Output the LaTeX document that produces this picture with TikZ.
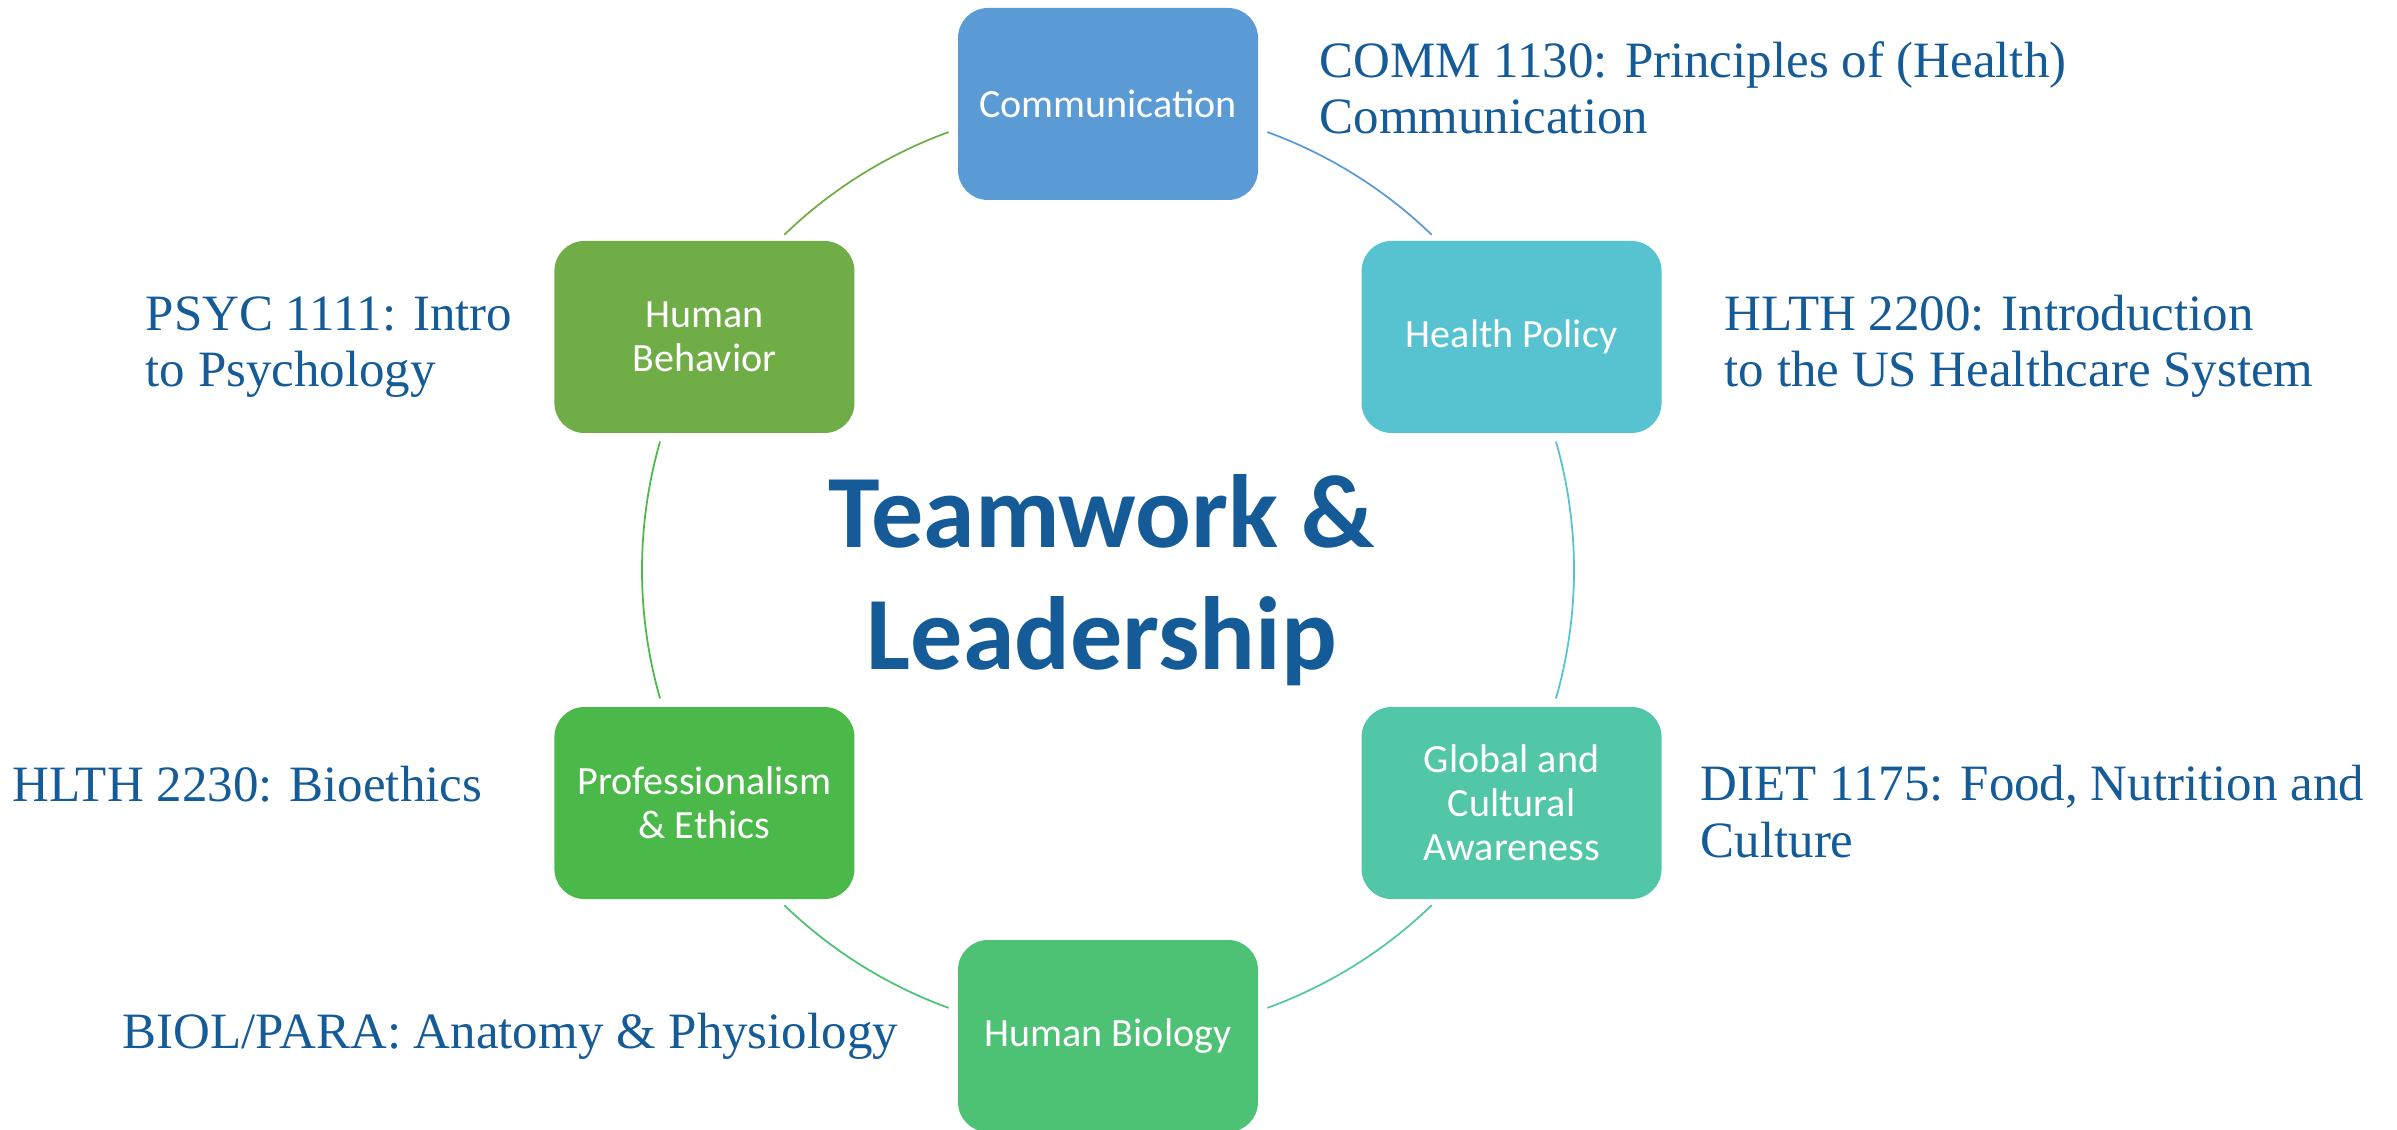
\documentclass[tikz,border=0pt]{standalone}
\usepackage{fontspec}
\setmainfont{Liberation Serif}
\newfontfamily\boxfont{Carlito}
\usepackage{xcolor}
\usepackage{tikz}

\definecolor{commblue}{RGB}{91,155,213}
\definecolor{policycyan}{RGB}{87,194,208}
\definecolor{globalteal}{RGB}{82,199,168}
\definecolor{biogreen}{RGB}{78,194,116}
\definecolor{profgreen}{RGB}{75,185,74}
\definecolor{behavgreen}{RGB}{112,173,71}
\definecolor{courseblue}{RGB}{21,91,151}

\begin{document}
\begin{tikzpicture}[
    topic/.style={rounded corners=0.3cm, minimum width=3cm, minimum height=1.92cm,
        text=white, align=center, font=\boxfont\fontsize{11.4}{12.5}\selectfont},
    course/.style={anchor=base west, align=left, inner sep=0pt, text=courseblue,
        font=\fontsize{14.5}{16}\selectfont},
    ring/.style={line width=0.5pt}
]
    \useasboundingbox (-11.08,-5.59) rectangle (12.89,5.70);
    \def\rad{4.66}

    % Ring pieces from box to box
    \foreach \s/\e/\col [count=\i] in {70/46/commblue, 16/-16/policycyan,
        -46/-70/globalteal, -110/-134/biogreen, -164/-196/profgreen, 134/110/behavgreen} {
        \coordinate (ring\i) at (\s:\rad);
        \draw[ring, \col] (ring\i) arc[start angle=\s, end angle=\e, radius=\rad];
    }

    % Boxes round the ring
    \foreach \ang/\name/\col/\txt in {90/comm/commblue/Communication,
        30/policy/policycyan/Health Policy,
        -30/global/globalteal/{Global and\\Cultural\\Awareness},
        -90/bio/biogreen/Human Biology,
        -150/prof/profgreen/{Professionalism\\\& Ethics},
        150/behav/behavgreen/{Human\\Behavior}} {
        \node[topic, fill=\col] (\name) at (\ang:\rad) {\txt};
    }

    % Title in the middle
    \node[align=center, text=courseblue, font=\boxfont\bfseries\fontsize{29.6}{34.7}\selectfont]
        (title) at (-0.06,-0.10) {Teamwork \&\\Leadership};

    % Courses beside the boxes (base = last line)
    \node[course] (commcourse) at (2.11,4.36) {COMM 1130: Principles of (Health)\\Communication};
    \node[course] (policycourse) at (6.16,1.83) {HLTH 2200: Introduction\\to the US Healthcare System};
    \node[course] (behavcourse) at (-9.63,1.83) {PSYC 1111: Intro\\to Psychology};
    \node[course] (profcourse) at (-10.96,-2.31) {HLTH 2230: Bioethics};
    \node[course] (globalcourse) at (5.92,-2.87) {DIET 1175: Food, Nutrition and\\Culture};
    \node[course] (biocourse) at (-9.86,-4.78) {BIOL/PARA: Anatomy \& Physiology};

\end{tikzpicture}
\end{document}
